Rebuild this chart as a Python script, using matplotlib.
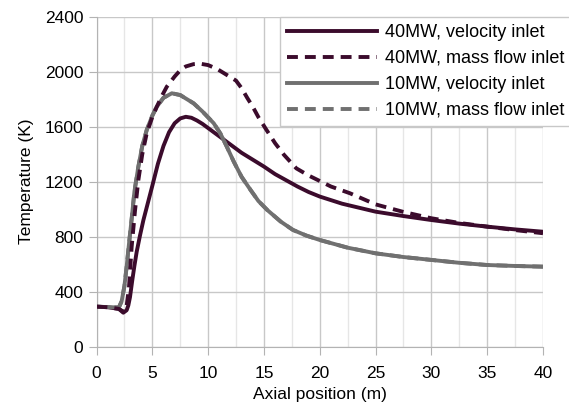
import numpy as np
import matplotlib
matplotlib.use("Agg")
import matplotlib.pyplot as plt
from matplotlib.ticker import MultipleLocator

plt.rcParams['font.family'] = ['Liberation Sans', 'DejaVu Sans']

# values
x_40v = [0, 1, 2, 2.4, 2.7, 2.85, 3.0, 3.2, 3.4, 3.6, 3.9, 4.2, 4.6, 5.0, 5.5, 6.0, 6.5,
         7.0, 7.5, 8.0, 8.5, 9.0, 9.5, 10, 11, 12, 13, 14, 15, 16, 17, 18, 19,
         20, 22, 25, 27.5, 30, 32.5, 35, 37.5, 40]
t_40v = [291, 287, 275, 247, 265, 300, 360, 480, 590, 690, 810, 920, 1045, 1170, 1330, 1460, 1560,
         1625, 1660, 1672, 1665, 1645, 1620, 1590, 1530, 1470, 1410, 1360, 1310, 1255, 1210, 1165, 1125,
         1092, 1040, 982, 950, 921, 895, 873, 853, 836]

x_40m = [0, 1, 2, 2.4, 2.65, 2.9, 3.15, 3.45, 3.75, 4.1, 4.5, 5.0, 5.4, 5.9, 6.3,
         7.0, 7.5, 8.0, 8.7, 9.3, 10, 10.8, 11.5, 12.5, 13.0, 13.5, 14.0, 14.5, 15.2,
         16, 16.8, 17.9, 19, 20, 21, 22.7, 25, 27.5, 30, 32.5, 35, 37.5, 40]
t_40m = [291, 287, 275, 255, 268, 420, 727, 990, 1212, 1400, 1552, 1670, 1745, 1830, 1891,
         1965, 2010, 2038, 2055, 2058, 2048, 2020, 1985, 1935, 1880, 1810, 1745, 1670, 1580,
         1480, 1395, 1297, 1245, 1205, 1165, 1116, 1035, 980, 934, 900, 873, 848, 825]

x_10v = [0, 1, 2.0, 2.25, 2.5, 2.7, 2.9, 3.15, 3.4, 3.75, 4.1, 4.5, 5.0, 5.4, 6.0,
         6.75, 7.5, 8.0, 8.7, 9.5, 10.5, 11.1, 11.7, 12.3, 13, 13.8, 14.5, 15.3, 16.5,
         17.6, 18.8, 20, 22.5, 25, 27.5, 30, 32.5, 35, 37.5, 40]
t_10v = [291, 288, 285, 330, 440, 582, 740, 930, 1130, 1309, 1460, 1576, 1680, 1745, 1810,
         1843, 1830, 1805, 1770, 1710, 1625, 1550, 1450, 1345, 1235, 1140, 1060, 994, 910,
         849, 808, 776, 720, 679, 652, 631, 610, 594, 587, 582]

x_10m = x_10v
t_10m = t_10v

dark = '#3b0b2c'
grey = '#707070'

fig = plt.figure(figsize=(5.69, 4.07), dpi=100)
ax = fig.add_axes([0.1696, 0.1482, 0.7847, 0.8108])

lw = 2.8
dash = (0, (2.8, 1.8))
ax.plot(x_40v, t_40v, color=dark, lw=lw, zorder=3, label='40MW, velocity inlet')
ax.plot(x_40m, t_40m, color=dark, lw=lw, ls=dash, zorder=5,
        label='40MW, mass flow inlet')
ax.plot(x_10v, t_10v, color=grey, lw=lw, zorder=4, label='10MW, velocity inlet')
ax.plot(x_10m, t_10m, color=grey, lw=lw, ls=dash, zorder=3.5,
        label='10MW, mass flow inlet')

ax.set_xlim(0, 40)
ax.set_ylim(0, 2400)
ax.xaxis.set_major_locator(MultipleLocator(5))
ax.xaxis.set_minor_locator(MultipleLocator(2.5))
ax.yaxis.set_major_locator(MultipleLocator(400))

ax.grid(which='major', color='#c8c8c8', lw=1)
ax.grid(which='minor', axis='x', color='#e6e6e6', lw=1)
ax.set_axisbelow(True)

for s in ['top', 'right']:
    ax.spines[s].set_visible(False)
for s in ['left', 'bottom']:
    ax.spines[s].set_color('#b3b3b3')
ax.tick_params(which='major', direction='out', length=6, pad=3.5, color='#b3b3b3',
               labelsize=12.5, labelcolor='black')
ax.tick_params(axis='x', which='major', pad=8)
ax.tick_params(which='minor', length=0)

ax.set_xlabel('Axial position (m)', fontsize=12.5, labelpad=4)
ax.set_ylabel('Temperature (K)', fontsize=12.5, labelpad=8)

leg = ax.legend(loc='upper right', bbox_to_anchor=(1.004, 0.959),
                bbox_transform=fig.transFigure, fontsize=13, frameon=True,
                fancybox=False, edgecolor='#c8c8c8', framealpha=1,
                handlelength=5.0, handletextpad=0.4, labelspacing=0.5,
                borderpad=0.4, borderaxespad=0)
leg.get_frame().set_linewidth(1)

fig.savefig('out.png', dpi=100)
